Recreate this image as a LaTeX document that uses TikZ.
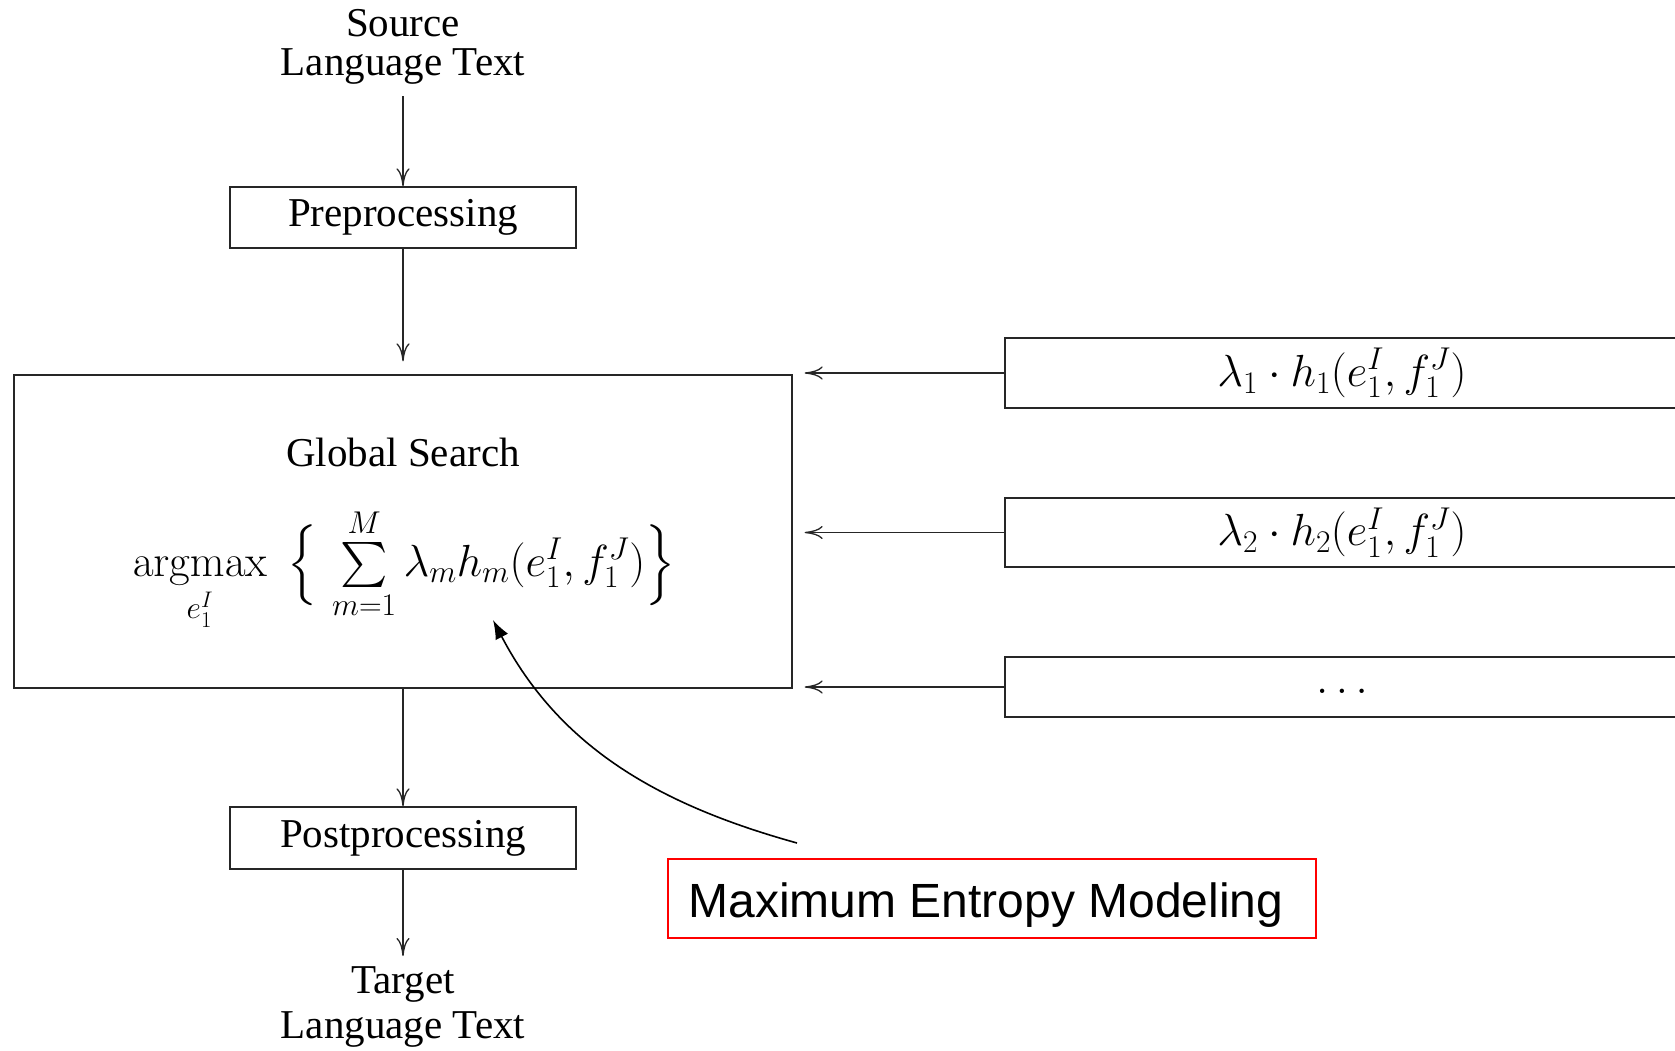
\RequirePackage{fix-cm}
\documentclass[tikz,border=0pt]{standalone}
\usepackage{amsmath}
\usepackage[no-math]{fontspec}
\setmainfont{Liberation Serif}
\newfontfamily\arialfont{Liberation Sans}
\DeclareFontFamily{OMX}{bigcmex}{}
\DeclareFontShape{OMX}{bigcmex}{m}{n}{<-> cmex10}{}
\DeclareSymbolFont{largesymbols}{OMX}{bigcmex}{m}{n}
\usetikzlibrary{arrows.meta}
\tikzset{
  box/.style={draw=black!85, line width=1.3pt, inner sep=0pt},
  conn/.style={draw=black!85, line width=1.3pt, -{To[length=18pt,width=13pt]}},
  txt/.style={font=\fontsize{41}{39}\selectfont, inner sep=0pt},
  mth/.style={font=\fontsize{45}{52}\selectfont, inner sep=0pt},
  redbox/.style={draw=red, line width=2pt, inner sep=0pt, font=\arialfont\fontsize{48}{56}\selectfont},
  curvearrow/.style={draw=black, line width=1.6pt, -{Latex[length=19pt,width=14pt]}}
}
\begin{document}
\begin{tikzpicture}[x=1pt,y=-1pt]
\useasboundingbox (0,0) rectangle (1675,1051);
% left column
\node[txt, align=center, anchor=north] (src) at (403,9) {Source\\Language Text};
\node[box, txt, minimum width=346pt, minimum height=61pt] (pre) at (403,217.5) {Preprocessing};
\node[box, minimum width=778pt, minimum height=313pt] (glob) at (403,531.5) {};
\node[txt, anchor=base] (gs) at (403,466) {Global Search};
\node[mth, anchor=base] (form) at (404,576) {$\operatorname*{argmax}\limits_{e_1^I}\;\Big\{\,\sum\limits_{m=1}^{M}\lambda_m h_m(e_1^I,f_1^J)\Big\}$};
\node[box, txt, minimum width=346pt, minimum height=62pt] (post) at (403,838) {Postprocessing};
\node[txt, font=\fontsize{41}{45}\selectfont, align=center, anchor=north] (tgt) at (403,966) {Target\\Language Text};
% right column
\node[box, mth, minimum width=674pt, minimum height=70pt] (r1) at (1342,373) {$\lambda_1\cdot h_1(e_1^I,f_1^J)$};
\node[box, mth, minimum width=674pt, minimum height=69pt] (r2) at (1342,532.5) {$\lambda_2\cdot h_2(e_1^I,f_1^J)$};
\node[box, mth, minimum width=674pt, minimum height=60pt] (r3) at (1342,687) {};
\node[mth, anchor=base] (dots) at (1342,693) {$\ldots$};
% annotation
\node[redbox, minimum width=648pt, minimum height=79pt, text height=37pt, text depth=0pt] (mem) at (992,898.5) {Maximum Entropy Modeling\hspace*{12pt}};
\coordinate (cs) at (797,843);
\coordinate (ct) at (493,620);
% connectors
\draw[conn, shorten <=12pt] (src) -- (pre);
\draw[conn, shorten >=13pt] (pre) -- (glob);
\draw[conn] (glob) -- (post);
\draw[conn, shorten >=10pt] (post) -- (tgt);
\draw[conn, shorten >=12pt] (r1.west) -- (r1.west -| glob.east);
\draw[conn, shorten >=12pt] (r2.west) -- (r2.west -| glob.east);
\draw[conn, shorten >=12pt] (r3.west) -- (r3.west -| glob.east);
\draw[curvearrow] (cs) .. controls (660,805) and (560,748) .. (ct);
\end{tikzpicture}
\end{document}
